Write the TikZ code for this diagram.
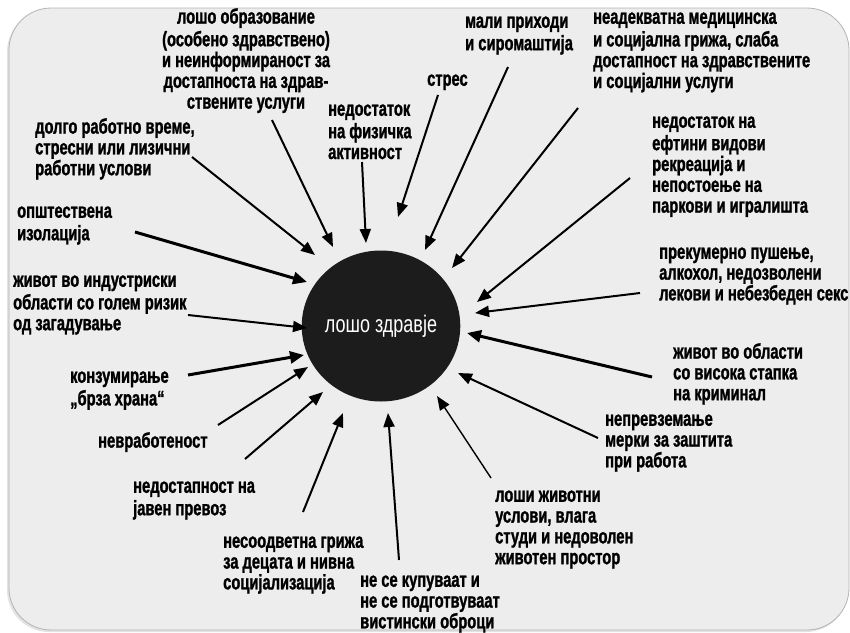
\documentclass[tikz,border=0pt]{standalone}
\usepackage{fontspec}
\usetikzlibrary{arrows.meta,shapes.geometric}
\newfontfamily\lblfont{Liberation Sans}[FakeStretch=0.7,FakeBold=1.2]
\newfontfamily\ctrfont{Liberation Sans}[FakeStretch=0.75]
\definecolor{bgfill}{HTML}{EDEDED}
\definecolor{bgline}{HTML}{B4B4B4}
\definecolor{ellfill}{HTML}{1C1C1C}
\tikzset{
  lbl/.style={anchor=north west, inner sep=0pt, align=left,
    font=\lblfont\bfseries\fontsize{21}{20.8}\selectfont, text=black},
  arr/.style={line width=2pt, -{Triangle[length=14pt,width=11pt]}},
  thinarr/.style={line width=1.4pt, -{Triangle[length=14pt,width=11pt]}},
  thickarr/.style={line width=3pt, -{Triangle[length=14pt,width=12pt]}},
}
\begin{document}
\begin{tikzpicture}[x=1pt,y=-1pt]
\useasboundingbox (0,0) rectangle (850,632);
\fill[gray!22, rounded corners=42pt] (7,10) rectangle (848,632);
\filldraw[fill=bgfill, draw=bgline, line width=0.8pt, rounded corners=42pt]
  (9,8) rectangle (849,630);

% center
\node[ellipse, fill=ellfill, minimum width=126pt, minimum height=151pt, inner sep=0pt,
  text=white, font=\ctrfont\fontsize{24}{24}\selectfont] (c) at (381,326) {лошо здравје};

% labels
\node[lbl, anchor=north, align=center] (t1) at (246,8) {\strut лошо образование\\(особено здравствено)\\и неинформираност за\\достапноста на здрав-\\ствените услуги};
\node[lbl] (t2) at (465,13) {\strut мали приходи\\и сиромаштија};
\node[lbl] (t3) at (593,9) {\strut неадекватна медицинска\\и социјална грижа, слаба\\достапност на здравствените\\и социјални услуги};
\node[lbl] (t4) at (427,71) {\strut стрес};
\node[lbl] (t5) at (328,101) {\strut недостаток\\на физичка\\активност};
\node[lbl] (t6) at (35,118) {\strut долго работно време,\\стресни или лизични\\работни услови};
\node[lbl] (t7) at (17,203) {\strut општествена\\изолација};
\node[lbl] (t8) at (13,272) {\strut живот во индустриски\\области со голем ризик\\од загадување};
\node[lbl] (t9) at (70,368) {\strut конзумирање\\„брза храна“};
\node[lbl] (t10) at (98,432) {\strut невработеност};
\node[lbl] (t11) at (133,478) {\strut недостапност на\\јавен превоз};
\node[lbl] (t12) at (223,533) {\strut несоодветна грижа\\за децата и нивна\\социјализација};
\node[lbl] (t13) at (360,572) {\strut не се купуваат и\\не се подготвуваат\\вистински оброци};
\node[lbl] (t14) at (495,487) {\strut лоши животни\\услови, влага\\студи и недоволен\\животен простор};
\node[lbl] (t15) at (605,411) {\strut непревземање\\мерки за заштита\\при работа};
\node[lbl] (t16) at (673,343) {\strut живот во области\\со висока стапка\\на криминал};
\node[lbl] (t17) at (659,244) {\strut прекумерно пушење,\\алкохол, недозволени\\лекови и небезбеден секс};
\node[lbl] (t18) at (652,113) {\strut недостаток на\\ефтини видови\\рекреација и\\непостоење на\\паркови и игралишта};

% arrow end points
\coordinate (s1) at (272,120);  \coordinate (e1) at (333,247);
\coordinate (s2) at (192,157);  \coordinate (e2) at (315,255);
\coordinate (s3) at (362,162);  \coordinate (e3) at (366,243);
\coordinate (s4) at (438,95);   \coordinate (e4) at (398,217);
\coordinate (s5) at (508,67);   \coordinate (e5) at (425,250);
\coordinate (s6) at (578,108);  \coordinate (e6) at (452,268);
\coordinate (s7) at (630,178);  \coordinate (e7) at (477,302);
\coordinate (s8) at (640,293);  \coordinate (e8) at (475,313);
\coordinate (s9) at (652,377);  \coordinate (e9) at (467,333);
\coordinate (s10) at (598,438); \coordinate (e10) at (458,373);
\coordinate (s11) at (491,478); \coordinate (e11) at (437,396);
\coordinate (s12) at (399,560); \coordinate (e12) at (388,413);
\coordinate (s13) at (303,512); \coordinate (e13) at (343,413);
\coordinate (s14) at (245,459); \coordinate (e14) at (323,392);
\coordinate (s15) at (218,425); \coordinate (e15) at (308,367);
\coordinate (s16) at (188,375); \coordinate (e16) at (304,355);
\coordinate (s17) at (188,315); \coordinate (e17) at (307,328);
\coordinate (s18) at (135,232); \coordinate (e18) at (307,282);

\draw[arr] (s1) -- (e1);
\draw[arr] (s2) -- (e2);
\draw[arr] (s3) -- (e3);
\draw[arr] (s4) -- (e4);
\draw[arr] (s5) -- (e5);
\draw[arr] (s6) -- (e6);
\draw[arr] (s7) -- (e7);
\draw[arr] (s8) -- (e8);
\draw[thickarr] (s9) -- (e9);
\draw[arr] (s10) -- (e10);
\draw[thinarr] (s11) -- (e11);
\draw[arr] (s12) -- (e12);
\draw[arr] (s13) -- (e13);
\draw[arr] (s14) -- (e14);
\draw[arr] (s15) -- (e15);
\draw[thickarr] (s16) -- (e16);
\draw[arr] (s17) -- (e17);
\draw[thickarr] (s18) -- (e18);
\end{tikzpicture}
\end{document}
